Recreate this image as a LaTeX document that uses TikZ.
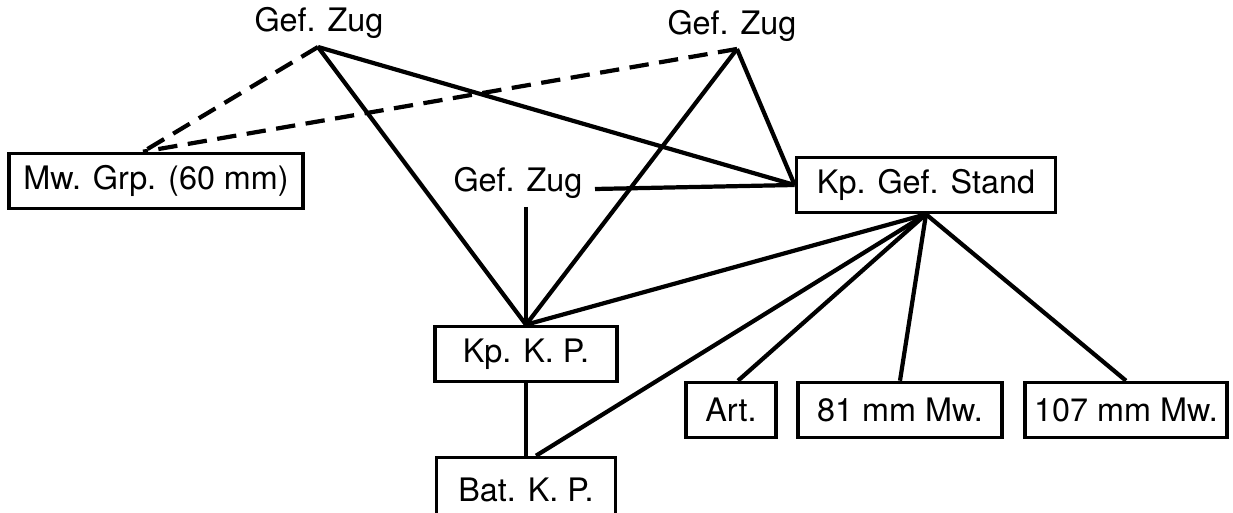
\documentclass[tikz,border=0pt]{standalone}
\usepackage{fontspec}
\setmainfont{TeX Gyre Heros}
\usepackage{tikz}

\begin{document}
\begin{tikzpicture}[x=0.01cm,y=-0.01cm]
		\clip (0,0) rectangle (1233,513);
		\fill[white] (0,0) rectangle (1233,513);

		\begin{scope}[every node/.style={draw,line width=1pt,minimum height=0.55cm,inner sep=0pt,font=\fontsize{9.2}{11}\selectfont}]
			\node[minimum width=2.94cm] (M) at (156,181) {Mw. Grp. (60 mm)};
			\node[minimum width=2.59cm] (S) at (926,185) {Kp. Gef. Stand};
			\node[minimum width=1.82cm] (K) at (526,354) {Kp. K. P.};
			\node[minimum width=1.79cm,minimum height=0.65cm] (B) at (526,490) {Bat. K. P.};
			\node[minimum width=0.90cm] (A) at (731,410) {Art.};
			\node[minimum width=2.04cm] (W81) at (900,410) {81 mm Mw.};
			\node[minimum width=2.02cm] (W107) at (1126,410) {107 mm Mw.};
		\end{scope}

		\begin{scope}[every node/.style={anchor=base,font=\fontsize{9.2}{11}\selectfont}]
			\node (Z1) at (319,32) {Gef. Zug};
			\node (Z2) at (732,35) {Gef. Zug};
			\node (Z3) at (518,192) {Gef. Zug};
		\end{scope}

		\coordinate (z1) at (318,47);
		\coordinate (z2) at (737,49);
		\coordinate (z3r) at (595,189);
		\coordinate (z3b) at (526,207);

		\begin{scope}[every edge/.style={draw=black,line width=1.2pt}]
			\path [dash pattern=on 5.5pt off 3pt] (z1) edge ([xshift=-0.13cm]M.north);
			\path [dash pattern=on 5.5pt off 3pt] (z2) edge ([xshift=-0.13cm]M.north);
			\path (z1) edge (S.west);
			\path (z2) edge (S.west);
			\path (z3r) edge (S.west);
			\path (z1) edge (K.north);
			\path (z2) edge (K.north);
			\path (z3b) edge (K.north);
			\path (S.south) edge (K.north);
			\path (S.south) edge ([xshift=0.1cm]B.north);
			\path (S.south) edge ([xshift=0.07cm]A.north);
			\path (S.south) edge (W81.north);
			\path (S.south) edge (W107.north);
			\path (K) edge (B);
		\end{scope}
	\end{tikzpicture}
\end{document}
